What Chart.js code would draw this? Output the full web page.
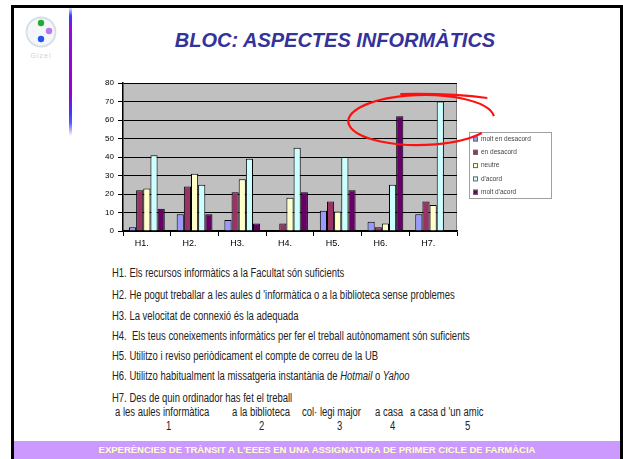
<!DOCTYPE html>
<html>
<head>
<meta charset="utf-8">
<script src="https://cdn.jsdelivr.net/npm/chart.js@4.4.1/dist/chart.umd.min.js"></script>
<style>
  html, body { margin: 0; padding: 0; background: #fff; }
  body { width: 623px; height: 459px; position: relative; overflow: hidden; font-family: "Liberation Sans", Arial, sans-serif; }
  #frame { position: absolute; left: 11px; top: 5px; width: 612px; height: 460px; border: 3px solid #000; box-sizing: border-box; }
  #vline { position: absolute; left: 69px; top: 8px; width: 3px; height: 128px;
    background: linear-gradient(#e0e4ff 0px, #3a3aff 8px, #8a10e0 18px, #9a00d0 85px, #3a3aff 105px, #5a5aff 115px, #ffffff 128px); }
  #title { position: absolute; left: 70px; width: 530px; top: 29px; text-align: center; color: #333399;
    font: italic bold 20px "Liberation Sans", Arial, sans-serif; }
  #chartBox { position: absolute; left: 80px; top: 70px; width: 480px; height: 190px; }
  .t, .c { position: absolute; font: 12px "Liberation Sans", Arial, sans-serif; color: #222; white-space: pre; line-height: 14px;
    transform: scaleX(0.79); transform-origin: 0 0; }
  .t { left: 112px; }
  #banner { position: absolute; left: 14px; top: 441px; width: 606px; height: 18px; background: #cc99ff;
    color: #ffffcc; font: bold 9.5px "Liberation Sans", Arial, sans-serif; text-align: center; line-height: 18px; }
</style>
</head>
<body>
<div id="frame"></div>
<svg style="position:absolute;left:22px;top:12px" width="40" height="52">
  <circle cx="19" cy="20" r="14.5" fill="#f4f6f9" stroke="#d6dee6" stroke-width="1.8"/>
  <circle cx="19" cy="11" r="3.2" fill="#22aa33"/>
  <circle cx="27" cy="19" r="3.2" fill="#bb77ee"/>
  <circle cx="19" cy="27" r="3.2" fill="#2255ee"/>
  <text x="19" y="46" text-anchor="middle" font-family="Liberation Sans" font-size="7" fill="#c8d4dc" letter-spacing="1">Gizel</text>
</svg>
<div id="vline"></div>
<div id="title">BLOC: ASPECTES INFORMÀTICS</div>
<div id="chartBox"><canvas id="chart" width="480" height="190"></canvas></div>

<div class="t" style="top:266px">H1. Els recursos informàtics a la Facultat són suficients</div>
<div class="t" style="top:288px">H2. He pogut treballar a les aules d 'informàtica o a la biblioteca sense problemes</div>
<div class="t" style="top:309px">H3. La velocitat de connexió és la adequada</div>
<div class="t" style="top:329px">H4.  Els teus coneixements informàtics per fer el treball autònomament són suficients</div>
<div class="t" style="top:349px">H5. Utilitzo i reviso periòdicament el compte de correu de la UB</div>
<div class="t" style="top:369px">H6. Utilitzo habitualment la missatgeria instantània de <i>Hotmail</i> o <i>Yahoo</i></div>
<div class="t" style="top:391px">H7. Des de quin ordinador has fet el treball</div>
<div id="opts"></div>
<div id="banner">EXPERÈNCIES DE TRÀNSIT A L'EEES EN UNA ASSIGNATURA DE PRIMER CICLE DE FARMÀCIA</div>

<script>
// categories and answers
var categories = ['H1.', 'H2.', 'H3.', 'H4.', 'H5.', 'H6.', 'H7.'];
var answerLabels = ['molt en desacord', 'en desacord', 'neutre', "d'acord", "molt d'acord"];
var moltEnDesacord = [2, 9, 6, 0, 11, 5, 9];
var enDesacord = [22, 24, 21, 4, 16, 2, 16];
var neutre = [23, 31, 28, 18, 10.5, 4, 14];
var dAcord = [41, 25, 39, 45, 40, 25, 70];
var moltDAcord = [12, 9, 4, 21, 22, 62, 0];
var yTicks = [0, 10, 20, 30, 40, 50, 60, 70, 80];

// H7 options
var h7Options = ['a les aules informàtica', 'a la biblioteca', 'col· legi major', 'a casa', 'a casa d \'un amic'];
var h7Numbers = ['1', '2', '3', '4', '5'];

var colors = ['#9999ff', '#993366', '#ffffcc', '#ccffff', '#660066'];
var series = [moltEnDesacord, enDesacord, neutre, dAcord, moltDAcord];

(function () {
    var optX = [115, 232, 302, 375, 410],
        numX = [166, 259, 337, 390, 465],
        box = document.getElementById('opts');
    h7Options.forEach(function (txt, i) {
        var d = document.createElement('div');
        d.className = 'c';
        d.style.left = optX[i] + 'px';
        d.style.top = '405px';
        d.textContent = txt;
        box.appendChild(d);
        var n = document.createElement('div');
        n.className = 'c';
        n.style.left = numX[i] + 'px';
        n.style.top = '419px';
        n.textContent = h7Numbers[i];
        box.appendChild(n);
    });
}());

var plotBg = {
    id: 'plotBg',
    beforeDraw: function (chart) {
        var a = chart.chartArea, ctx = chart.ctx;
        ctx.save();
        ctx.fillStyle = '#c0c0c0';
        ctx.fillRect(a.left, a.top, a.right - a.left, a.bottom - a.top);
        ctx.strokeStyle = '#808080';
        ctx.lineWidth = 1;
        ctx.beginPath();
        ctx.moveTo(a.left, a.top + 0.5);
        ctx.lineTo(a.right - 0.5, a.top + 0.5);
        ctx.lineTo(a.right - 0.5, a.bottom);
        ctx.stroke();
        ctx.restore();
    }
};

var boxLegend = {
    id: 'boxLegend',
    afterDraw: function (chart) {
        var ctx = chart.ctx, x = 389, y = 62, w = 82, h = 66;
        ctx.save();
        ctx.fillStyle = '#ffffff';
        ctx.fillRect(x, y, w, h);
        ctx.strokeStyle = '#a0a0a0';
        ctx.lineWidth = 1;
        ctx.strokeRect(x + 0.5, y + 0.5, w, h);
        ctx.font = '6.5px "Liberation Sans", Arial, sans-serif';
        ctx.textBaseline = 'middle';
        chart.data.datasets.forEach(function (ds, i) {
            var ry = y + 7 + i * 13.3;
            ctx.fillStyle = ds.backgroundColor;
            ctx.fillRect(x + 4, ry - 2.5, 5, 5);
            ctx.strokeStyle = '#666';
            ctx.strokeRect(x + 4.5, ry - 2, 4, 4);
            ctx.fillStyle = '#444';
            ctx.fillText(ds.label, x + 12, ry);
        });
        ctx.restore();
    }
};

var redMark = {
    id: 'redMark',
    afterDraw: function (chart) {
        var ctx = chart.ctx,
            xs = chart.scales.x, ys = chart.scales.y,
            cx = (xs.getPixelForValue(5) + xs.getPixelForValue(6)) / 2 + 12,
            cy = ys.getPixelForValue(60);
        ctx.save();
        ctx.strokeStyle = '#ff1010';
        ctx.lineWidth = 2.2;
        ctx.beginPath();
        ctx.ellipse(cx, cy, 73, 25, -0.02, 0.6, Math.PI * 2 - 0.1);
        ctx.stroke();
        ctx.beginPath();
        ctx.moveTo(cx - 21, cy - 26);
        ctx.quadraticCurveTo(cx + 30, cy - 27, cx + 66, cy - 22);
        ctx.stroke();
        ctx.restore();
    }
};

new Chart(document.getElementById('chart'), {
    type: 'bar',
    data: {
        labels: categories,
        datasets: series.map(function (vals, i) {
            return {
                label: answerLabels[i],
                data: vals,
                backgroundColor: colors[i],
                borderColor: '#000000',
                borderWidth: 1,
                categoryPercentage: 0.75,
                barPercentage: 1
            };
        })
    },
    options: {
        responsive: false,
        animation: false,
        layout: { padding: { top: 13, right: 103, left: 0, bottom: 0 } },
        plugins: { legend: { display: false }, tooltip: { enabled: false } },
        scales: {
            x: {
                grid: { drawOnChartArea: false, color: '#000', tickLength: 5, offset: true },
                border: { color: '#000', width: 1.5 },
                ticks: { color: '#000', font: { size: 9, family: '"Liberation Sans", Arial' }, padding: 2, labelOffset: -5 },
                afterFit: function (s) { s.height = 29; }
            },
            y: {
                min: 0,
                max: 80,
                afterBuildTicks: function (s) { s.ticks = yTicks.map(function (v) { return { value: v }; }); },
                grid: { color: '#000', lineWidth: 1, tickLength: 5, drawTicks: true },
                border: { color: '#000', width: 1.5 },
                ticks: { color: '#000', font: { size: 8, family: '"Liberation Sans", Arial' }, padding: 4 },
                afterFit: function (s) { s.width = 43; }
            }
        }
    },
    plugins: [plotBg, boxLegend, redMark]
});
</script>
</body>
</html>
